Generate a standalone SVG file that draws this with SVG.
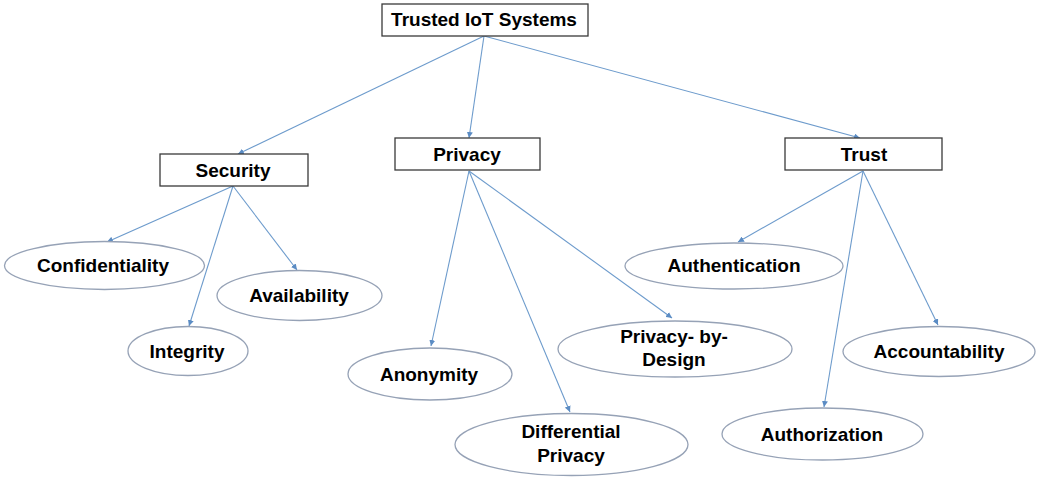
<svg xmlns="http://www.w3.org/2000/svg" width="1040" height="485" viewBox="0 0 1040 485">
<style>
.box{fill:#fff;stroke:#3a3a3a;stroke-width:1.3}
.ell{fill:#fff;stroke:#96a2b6;stroke-width:1.3}
.lbl{font-family:"Liberation Sans",Arial,sans-serif;font-weight:bold;font-size:19px;fill:#000;text-anchor:middle}
.con{stroke:#6d9bcc;stroke-width:1.1;fill:none;marker-end:url(#ah)}
</style>
<defs>
<marker id="ah" viewBox="0 0 10 10" refX="10" refY="5" markerWidth="6" markerHeight="6" markerUnits="userSpaceOnUse" orient="auto">
<path d="M0,0 L10,5 L0,10 z" fill="#5b8cc4"/>
</marker>
</defs>
<rect width="1040" height="485" fill="#fff"/>
<g id="connectors">
<line class="con" x1="484" y1="36" x2="238" y2="154"/>
<line class="con" x1="484" y1="36" x2="469" y2="138"/>
<line class="con" x1="484" y1="36" x2="860" y2="138"/>
<line class="con" x1="233" y1="186" x2="107" y2="242"/>
<line class="con" x1="233" y1="186" x2="189" y2="326"/>
<line class="con" x1="233" y1="186" x2="297" y2="270"/>
<line class="con" x1="469" y1="171" x2="431" y2="346"/>
<line class="con" x1="469" y1="171" x2="570" y2="412"/>
<line class="con" x1="469" y1="171" x2="672" y2="318"/>
<line class="con" x1="863" y1="171" x2="738" y2="242"/>
<line class="con" x1="863" y1="171" x2="824" y2="407"/>
<line class="con" x1="863" y1="171" x2="938" y2="325"/>
</g>
<g id="root"><rect class="box" x="382" y="4" width="206" height="32"/><text class="lbl" x="484" y="26">Trusted IoT Systems</text></g>
<g id="security"><rect class="box" x="160" y="154" width="148" height="32"/><text class="lbl" x="233" y="177">Security</text></g>
<g id="privacy"><rect class="box" x="395" y="138" width="145" height="32"/><text class="lbl" x="467" y="161">Privacy</text></g>
<g id="trust"><rect class="box" x="785" y="138" width="157" height="32"/><text class="lbl" x="864" y="161">Trust</text></g>
<g id="confidentiality"><ellipse class="ell" cx="104.5" cy="265.5" rx="100" ry="24"/><text class="lbl" x="103" y="272">Confidentiality</text></g>
<g id="availability"><ellipse class="ell" cx="299.5" cy="295.5" rx="82.5" ry="25"/><text class="lbl" x="299" y="302">Availability</text></g>
<g id="integrity"><ellipse class="ell" cx="188" cy="351" rx="60" ry="24.5"/><text class="lbl" x="187" y="358">Integrity</text></g>
<g id="anonymity"><ellipse class="ell" cx="430" cy="374" rx="82" ry="26"/><text class="lbl" x="429" y="381">Anonymity</text></g>
<g id="differential-privacy"><ellipse class="ell" cx="571.5" cy="444.5" rx="116.5" ry="31"/><text class="lbl" x="571" y="438">Differential</text><text class="lbl" x="571" y="462">Privacy</text></g>
<g id="privacy-by-design"><ellipse class="ell" cx="675" cy="349" rx="117" ry="28"/><text class="lbl" x="674" y="343">Privacy- by-</text><text class="lbl" x="674" y="366">Design</text></g>
<g id="authentication"><ellipse class="ell" cx="734" cy="266" rx="109" ry="23"/><text class="lbl" x="734" y="272">Authentication</text></g>
<g id="accountability"><ellipse class="ell" cx="939" cy="351.5" rx="96" ry="25"/><text class="lbl" x="939" y="358">Accountability</text></g>
<g id="authorization"><ellipse class="ell" cx="822.5" cy="434" rx="100.5" ry="26"/><text class="lbl" x="822" y="441">Authorization</text></g>
</svg>
